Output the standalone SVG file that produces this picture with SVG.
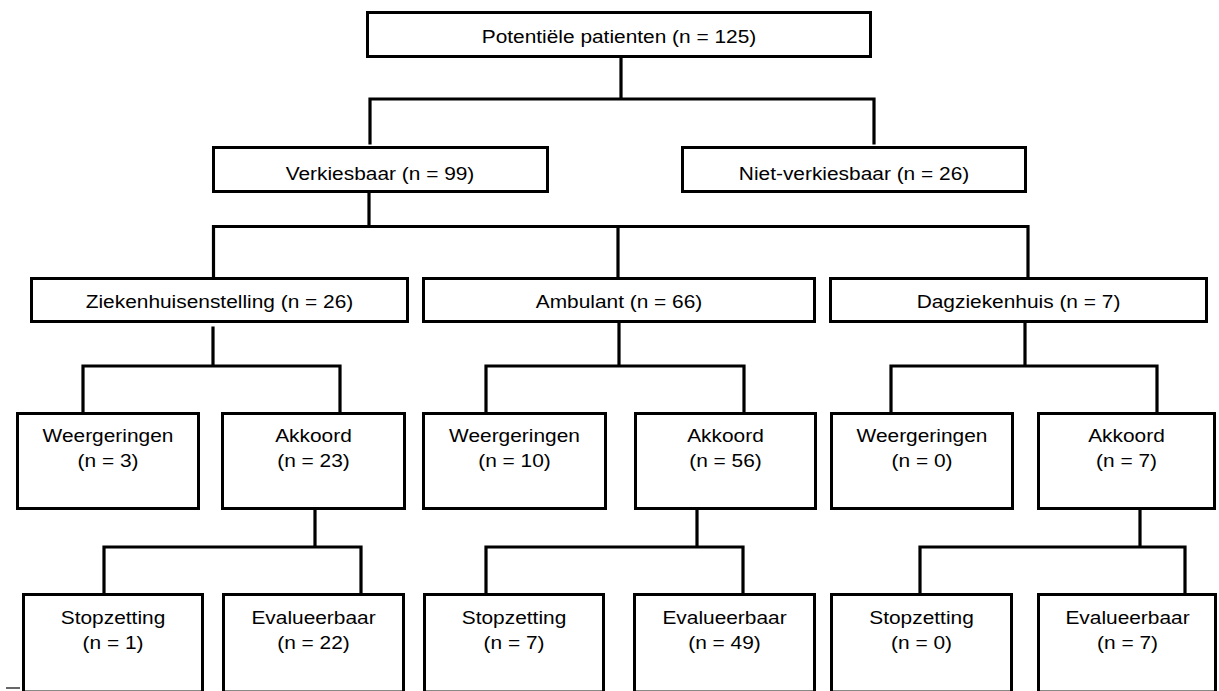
<svg xmlns="http://www.w3.org/2000/svg" width="1219" height="691" viewBox="0 0 1219 691">
<style>
.box{fill:#fff;stroke:#000;stroke-width:3}
.c{fill:none;stroke:#000;stroke-width:3.2;stroke-linejoin:miter;stroke-linecap:square}
.edge{stroke:#888;stroke-width:1}
text{font-family:"Liberation Sans",Arial,sans-serif;font-size:18.5px;fill:#000;text-anchor:middle}
</style>
<rect width="1219" height="691" fill="#fff"/>
<g id="connectors">
<path class="c" d="M621 58V99M370 143V99H874V143"/>
<path class="c" d="M369 193V226.5M213.5 276V226.5H1028V276M618 226.5V276"/>
<path class="c" d="M213 328V366M83 411V366H340V411"/>
<path class="c" d="M619 324V366M486 411V366H744V411"/>
<path class="c" d="M1025 324V366M891 411V366H1157V411"/>
<path class="c" d="M315 510V547M104 592V547H361V592"/>
<path class="c" d="M697 510V547M486 592V547H743V592"/>
<path class="c" d="M1140 510V547M920 592V547H1185V592"/>
</g>
<g id="n_top"><rect class="box" x="367.5" y="12.5" width="503" height="44"/><text transform="translate(619 43) scale(1.13 1)">Potentiële patienten (n = 125)</text></g>
<g id="n_verk"><rect class="box" x="213.5" y="147.5" width="334" height="44"/><text transform="translate(380 180) scale(1.13 1)">Verkiesbaar (n = 99)</text></g>
<g id="n_niet"><rect class="box" x="682.5" y="147.5" width="343" height="44"/><text transform="translate(854 180) scale(1.13 1)">Niet-verkiesbaar (n = 26)</text></g>
<g id="n_ziek"><rect class="box" x="31.5" y="278.5" width="376" height="43"/><text transform="translate(219.5 308) scale(1.13 1)">Ziekenhuisenstelling (n = 26)</text></g>
<g id="n_amb"><rect class="box" x="423.5" y="278.5" width="391" height="43"/><text transform="translate(619 308) scale(1.13 1)">Ambulant (n = 66)</text></g>
<g id="n_dag"><rect class="box" x="830.5" y="278.5" width="376" height="43"/><text transform="translate(1018.5 308) scale(1.13 1)">Dagziekenhuis (n = 7)</text></g>
<g id="n_w3"><rect class="box" x="17.5" y="413.5" width="181" height="95"/><text transform="translate(108 442) scale(1.13 1)"><tspan x="0" y="0">Weergeringen</tspan><tspan x="0" y="25">(n = 3)</tspan></text></g>
<g id="n_a23"><rect class="box" x="222.5" y="413.5" width="182" height="95"/><text transform="translate(313.5 442) scale(1.13 1)"><tspan x="0" y="0">Akkoord</tspan><tspan x="0" y="25">(n = 23)</tspan></text></g>
<g id="n_w10"><rect class="box" x="423.5" y="413.5" width="182" height="95"/><text transform="translate(514.5 442) scale(1.13 1)"><tspan x="0" y="0">Weergeringen</tspan><tspan x="0" y="25">(n = 10)</tspan></text></g>
<g id="n_a56"><rect class="box" x="635.5" y="413.5" width="180" height="95"/><text transform="translate(725.5 442) scale(1.13 1)"><tspan x="0" y="0">Akkoord</tspan><tspan x="0" y="25">(n = 56)</tspan></text></g>
<g id="n_w0"><rect class="box" x="831.5" y="413.5" width="181" height="95"/><text transform="translate(922 442) scale(1.13 1)"><tspan x="0" y="0">Weergeringen</tspan><tspan x="0" y="25">(n = 0)</tspan></text></g>
<g id="n_a7"><rect class="box" x="1038.5" y="413.5" width="176" height="95"/><text transform="translate(1126.5 442) scale(1.13 1)"><tspan x="0" y="0">Akkoord</tspan><tspan x="0" y="25">(n = 7)</tspan></text></g>
<g id="n_s1"><rect class="box" x="23.5" y="594.5" width="179" height="99"/><line class="edge" x1="25" y1="690.5" x2="201" y2="690.5"/><text transform="translate(113 624) scale(1.13 1)"><tspan x="0" y="0">Stopzetting</tspan><tspan x="0" y="25">(n = 1)</tspan></text></g>
<g id="n_e22"><rect class="box" x="223.5" y="594.5" width="180" height="99"/><line class="edge" x1="225" y1="690.5" x2="402" y2="690.5"/><text transform="translate(313.5 624) scale(1.13 1)"><tspan x="0" y="0">Evalueerbaar</tspan><tspan x="0" y="25">(n = 22)</tspan></text></g>
<g id="n_s7"><rect class="box" x="424.5" y="594.5" width="179" height="99"/><line class="edge" x1="426" y1="690.5" x2="602" y2="690.5"/><text transform="translate(514 624) scale(1.13 1)"><tspan x="0" y="0">Stopzetting</tspan><tspan x="0" y="25">(n = 7)</tspan></text></g>
<g id="n_e49"><rect class="box" x="634.5" y="594.5" width="180" height="99"/><line class="edge" x1="636" y1="690.5" x2="813" y2="690.5"/><text transform="translate(724.5 624) scale(1.13 1)"><tspan x="0" y="0">Evalueerbaar</tspan><tspan x="0" y="25">(n = 49)</tspan></text></g>
<g id="n_s0"><rect class="box" x="831.5" y="594.5" width="180" height="99"/><line class="edge" x1="833" y1="690.5" x2="1010" y2="690.5"/><text transform="translate(921.5 624) scale(1.13 1)"><tspan x="0" y="0">Stopzetting</tspan><tspan x="0" y="25">(n = 0)</tspan></text></g>
<g id="n_e7"><rect class="box" x="1038.5" y="594.5" width="177" height="99"/><line class="edge" x1="1040" y1="690.5" x2="1214" y2="690.5"/><text transform="translate(1127.5 624) scale(1.13 1)"><tspan x="0" y="0">Evalueerbaar</tspan><tspan x="0" y="25">(n = 7)</tspan></text></g>
<line x1="6" y1="688" x2="20" y2="688" stroke="#000" stroke-width="1.2"/>
</svg>
